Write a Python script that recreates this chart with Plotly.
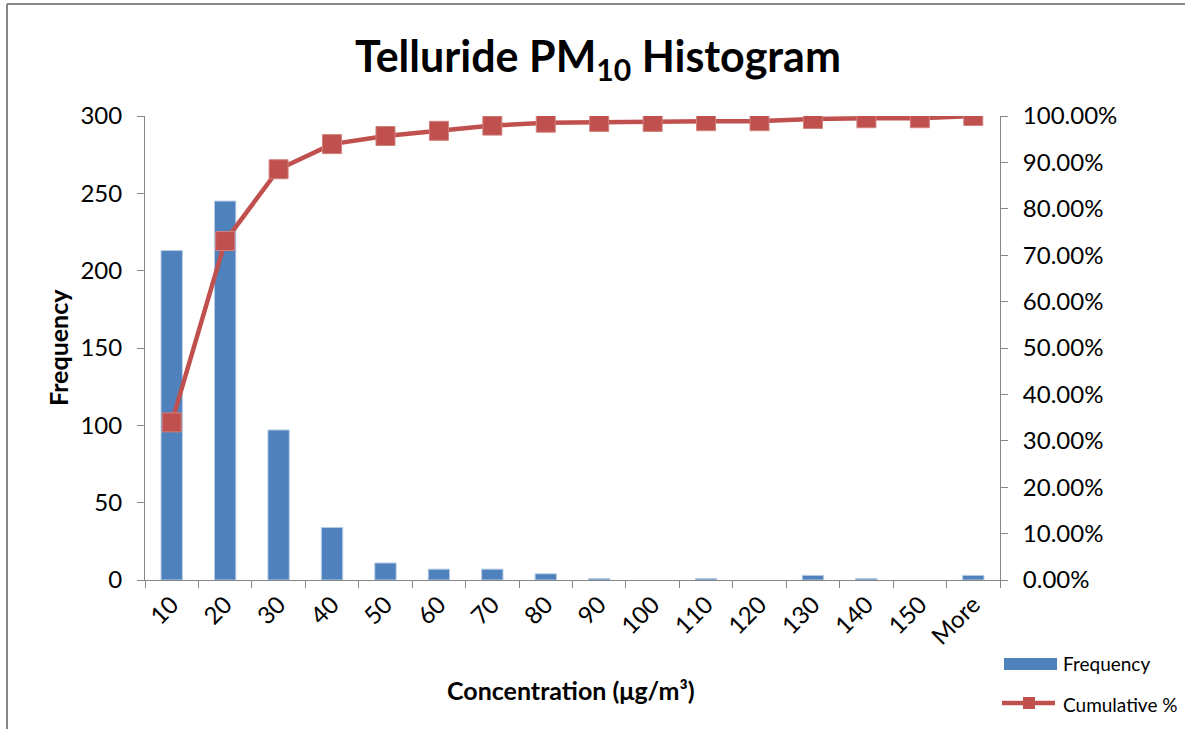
import plotly.graph_objects as go

# Histogram bins (upper bin edge, µg/m³) and counts
bins = ["10", "20", "30", "40", "50", "60", "70", "80", "90", "100",
        "110", "120", "130", "140", "150", "More"]
frequency = [213, 245, 97, 34, 11, 7, 7, 4, 1, 0, 1, 0, 3, 1, 0, 3]
cumulative_pct = [0.3397, 0.7305, 0.8852, 0.9394, 0.9569, 0.9681, 0.9793,
                  0.9856, 0.9872, 0.9872, 0.9888, 0.9888, 0.9936, 0.9952,
                  0.9952, 1.0]

W, H = 1185, 729
L, R, T, B = 145, 185, 116, 149
PW, PH = W - L - R, H - T - B

BLUE = "#4F81BD"
RED = "#C0504D"
AXIS = "#868686"
FONT = "Lato"


def px(x):
    """Pixel column -> paper x."""
    return (x - L) / PW


def py(y):
    """Pixel row -> paper y."""
    return (H - B - y) / PH


fig = go.Figure()
fig.add_trace(go.Bar(
    x=bins, y=frequency, name="Frequency",
    marker=dict(color=BLUE,
                line=dict(color="#B9CDE5",
                          width=[1 if v > 0 else 0 for v in frequency])),
    showlegend=False,
))
fig.add_trace(go.Scatter(
    x=bins, y=cumulative_pct, name="Cumulative %", yaxis="y2",
    mode="lines+markers",
    line=dict(color=RED, width=4.5),
    marker=dict(symbol="square", size=19, color=RED,
                line=dict(color="#D0807E", width=1)),
    showlegend=False,
))

tickfont = dict(family=FONT, size=24, color="black")
fig.update_layout(
    width=W, height=H,
    margin=dict(l=L, r=R, t=T, b=B),
    paper_bgcolor="white", plot_bgcolor="white",
    bargap=0.6,
    title=dict(text="Telluride PM<sub>10</sub> Histogram",
               x=598 / W, y=1 - 57 / H, xanchor="center", yanchor="middle",
               font=dict(family=FONT, size=43, color="black", weight="bold")),
    xaxis=dict(type="category", range=[-0.5, 15.5],
               showline=True, linecolor=AXIS, linewidth=1,
               ticks="outside", tickson="boundaries", ticklen=7,
               tickcolor=AXIS, tickangle=-45, tickfont=tickfont,
               showgrid=False, zeroline=False),
    yaxis=dict(range=[0, 300], dtick=50, showline=True, linecolor=AXIS,
               linewidth=1, ticks="outside", ticklen=7, tickcolor=AXIS,
               tickfont=tickfont, showgrid=False, zeroline=False,
               ticklabelstandoff=10),
    yaxis2=dict(range=[0, 1], dtick=0.1, tickformat=".2%",
                overlaying="y", side="right", showline=True,
                linecolor=AXIS, linewidth=1, ticks="outside", ticklen=7,
                tickcolor=AXIS, tickfont=tickfont, showgrid=False,
                zeroline=False, ticklabelstandoff=10),
)

annotations = [
    dict(text="Frequency", x=px(58), y=py(348), textangle=-90,
         font=dict(family=FONT, size=25, color="black", weight="bold")),
    dict(text="Concentration (μg/m³)", x=px(571), y=py(690),
         font=dict(family=FONT, size=25, color="black", weight="bold")),
    dict(text="Frequency", x=px(1061), y=py(663), xanchor="left",
         font=dict(family=FONT, size=19, color="black")),
    dict(text="Cumulative %", x=px(1061), y=py(704), xanchor="left",
         font=dict(family=FONT, size=19, color="black")),
]
for a in annotations:
    a.update(xref="paper", yref="paper", showarrow=False)
    a.setdefault("xanchor", "center")
    a.setdefault("yanchor", "middle")
fig.update_layout(annotations=annotations)

shapes = [
    # chart frame (left and top edges)
    dict(type="line", x0=px(7), x1=px(7), y0=py(4), y1=py(H + 10),
         line=dict(color=AXIS, width=2)),
    dict(type="line", x0=px(7), x1=px(W + 10), y0=py(4), y1=py(4),
         line=dict(color=AXIS, width=2)),
    # legend keys
    dict(type="rect", x0=px(1004), x1=px(1057), y0=py(670), y1=py(658),
         fillcolor=BLUE, line=dict(width=0)),
    dict(type="line", x0=px(1002), x1=px(1055), y0=py(703), y1=py(703),
         line=dict(color=RED, width=4.5)),
    dict(type="rect", x0=px(1023), x1=px(1035), y0=py(709), y1=py(697),
         fillcolor=RED, line=dict(width=0)),
]
for s in shapes:
    s.update(xref="paper", yref="paper")
fig.update_layout(shapes=shapes)

fig.write_html("out.html")
